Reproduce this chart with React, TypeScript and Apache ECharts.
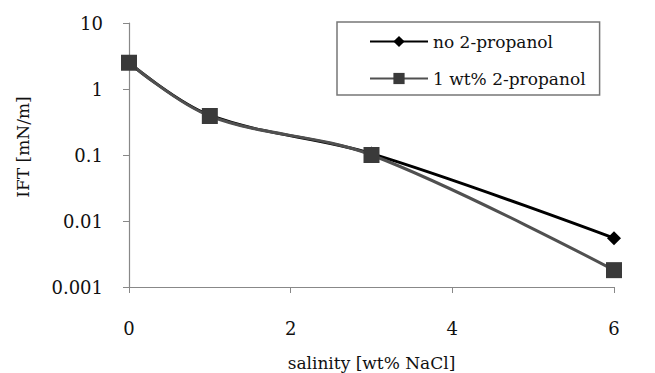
import React, { useEffect, useRef } from "react";
import * as echarts from "echarts";

const salinity = [0, 1, 3, 6];
const noPropanol = [2.5, 0.4, 0.105, 0.0055];
const withPropanol = [2.5, 0.39, 0.1, 0.0018];
const seriesNames = ["no 2-propanol", "1 wt% 2-propanol"];

export default function App() {
  const ref = useRef<HTMLDivElement>(null);
  useEffect(() => {
    if (!ref.current) return;
    const chart = echarts.init(ref.current, null, { renderer: "svg" });
    const font = "DejaVu Serif";
    const lbl = { fontFamily: font, fontSize: 18, color: "#111" };
    const nm = { fontFamily: font, fontSize: 17, color: "#111" };
    chart.setOption({
      animation: false,
      backgroundColor: "#fff",
      grid: { left: 129, right: 41, top: 23, bottom: 86, outerBoundsMode: "none", containLabel: false },
      legend: {
        orient: "vertical",
        left: 337,
        top: 22,
        padding: [11, 14, 8, 32],
        itemGap: 20,
        itemWidth: 58,
        itemHeight: 14,
        borderColor: "#777",
        borderWidth: 1.5,
        textStyle: { fontFamily: font, fontSize: 17, color: "#111" },
        data: seriesNames,
      },
      xAxis: [
        {
          type: "value",
          min: 0,
          max: 6,
          interval: 2,
          name: "salinity [wt% NaCl]",
          nameLocation: "middle",
          nameGap: 67,
          nameTextStyle: nm,
          axisLine: { lineStyle: { color: "#888", width: 1.2 } },
          axisTick: { show: true, length: 6, lineStyle: { color: "#888" } },
          axisLabel: { ...lbl, margin: 32 },
          splitLine: { show: false },
        },
      ],
      yAxis: [
        {
          type: "log",
          logBase: 10,
          min: 0.001,
          max: 10,
          name: "IFT [mN/m]",
          nameLocation: "middle",
          nameGap: 98,
          nameTextStyle: { ...nm, padding: [0, 0, 0, 16] },
          axisLine: { show: true, lineStyle: { color: "#888", width: 1.2 } },
          axisTick: { show: true, length: 6, lineStyle: { color: "#888" } },
          axisLabel: {
            ...lbl,
            margin: 26,
            formatter: (v: number) => String(parseFloat(v.toPrecision(3))),
          },
          splitLine: { show: false },
          minorTick: { show: false },
        },
      ],
      series: [
        {
          name: seriesNames[0],
          type: "line",
          smooth: 0.35,
          data: salinity.map((x, i) => [x, noPropanol[i]]),
          symbol: "diamond",
          symbolSize: 14,
          itemStyle: { color: "#000" },
          lineStyle: { color: "#000", width: 3 },
          z: 2,
        },
        {
          name: seriesNames[1],
          type: "line",
          smooth: 0.35,
          data: salinity.map((x, i) => [x, withPropanol[i]]),
          symbol: "rect",
          symbolSize: 16,
          itemStyle: { color: "#3a3a3a" },
          lineStyle: { color: "#505050", width: 3 },
          z: 3,
        },
      ],
    });
    return () => chart.dispose();
  }, []);
  return <div ref={ref} style={{ width: 655, height: 373, position: "absolute", left: 0, top: 0 }} />;
}
